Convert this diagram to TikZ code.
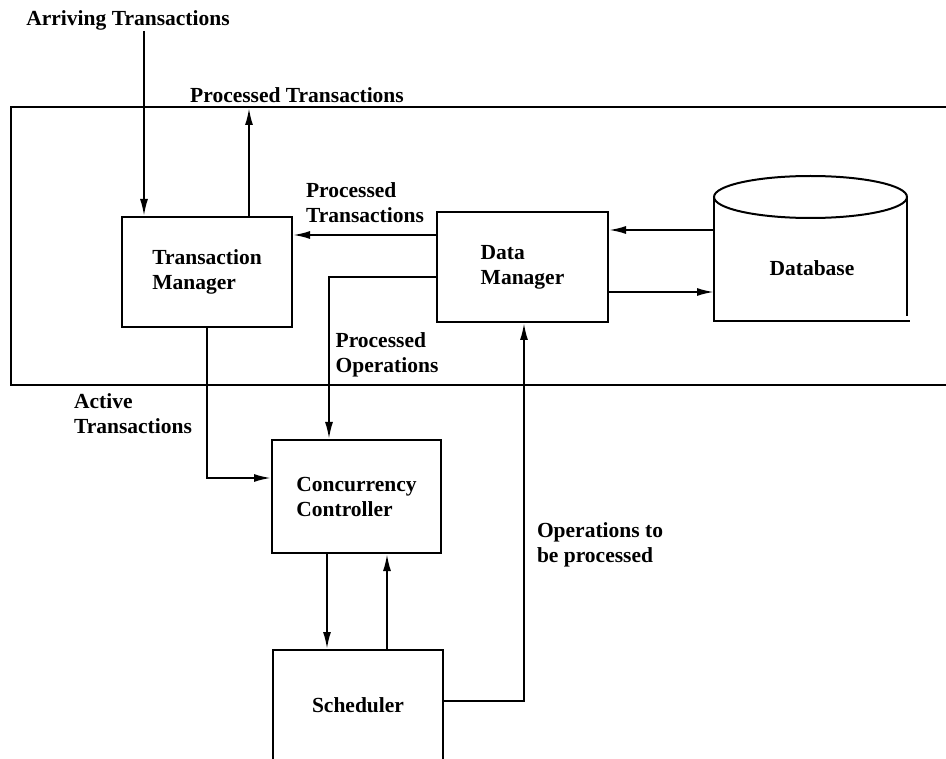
\documentclass[tikz,border=0pt]{standalone}
\usepackage{fontspec}
\setmainfont{Liberation Serif}
\usetikzlibrary{arrows.meta}

\begin{document}
\begin{tikzpicture}[x=1pt, y=-1pt, line width=2pt,
    font=\fontsize{21.5}{25}\selectfont\bfseries,
    box/.style={draw, minimum width=170pt, minimum height=110pt, align=left},
    lbl/.style={align=left, inner sep=0pt},
    arr/.style={-{Latex[length=17pt, width=8pt]}}]
    \useasboundingbox (0,0) rectangle (946,759);
    \clip (0,0) rectangle (946,759);

    % System boundary (open on the right)
    \draw (960,107) -- (11,107) -- (11,385) -- (960,385);

    % Boxes
    \node[box] (tm) at (207,272) {Transaction\\Manager};
    \node[box, minimum width=171pt] (dm) at (522.5,267) {Data\\Manager};
    \node[box, minimum width=169pt, minimum height=113pt] (cc) at (356.5,496.5) {Concurrency\\Controller};
    \node[box] (sch) at (358,705) {Scheduler};

    % Database cylinder
    \draw (714,197) -- (714,321) -- (910,321);
    \draw (907,197) -- (907,316);
    \draw (810.5,197) ellipse [x radius=96.5, y radius=21];
    \node (db) at (812,268) {Database};
    \coordinate (dbin) at (714,230);
    \coordinate (dbout) at (714,292);

    % Labels
    \node[lbl] (arrive) at (128,20) {Arriving Transactions};
    \node[lbl] (done) at (297,95) {Processed Transactions};
    \node[lbl] (donetr) at (365,203) {Processed\\Transactions};
    \node[lbl] (doneop) at (387,355) {Processed\\Operations};
    \node[lbl] (active) at (133,414) {Active\\Transactions};
    \node[lbl] (toproc) at (600,545) {Operations to\\be processed};

    % Flows
    \coordinate (tmin) at ([xshift=-63pt]tm.north);
    \coordinate (tmout) at ([xshift=42pt]tm.north);
    \draw[arr] (arrive.south -| tmin) -- (tmin);
    \draw[arr] (tmout) -- (tmout |- 0,108);
    \draw[arr] ([yshift=32pt]dm.west) -- ([yshift=32pt]dm.west -| tm.east);
    \draw[arr] ([yshift=-10pt]dm.west) -| ([xshift=-27.5pt]cc.north);
    \draw[arr] (dbin) -- (dbin -| dm.east);
    \draw[arr] (dbout -| dm.east) -- (dbout);
    \draw[arr] (tm.south) |- ([yshift=18.5pt]cc.west);
    \draw[arr] ([xshift=-29.5pt]cc.south) -- ([xshift=-31pt]sch.north);
    \draw[arr] ([xshift=29pt]sch.north) -- ([xshift=30.5pt]cc.south);
    \draw[arr] ([yshift=4pt]sch.east) -| ([xshift=1.5pt]dm.south);
\end{tikzpicture}
\end{document}
